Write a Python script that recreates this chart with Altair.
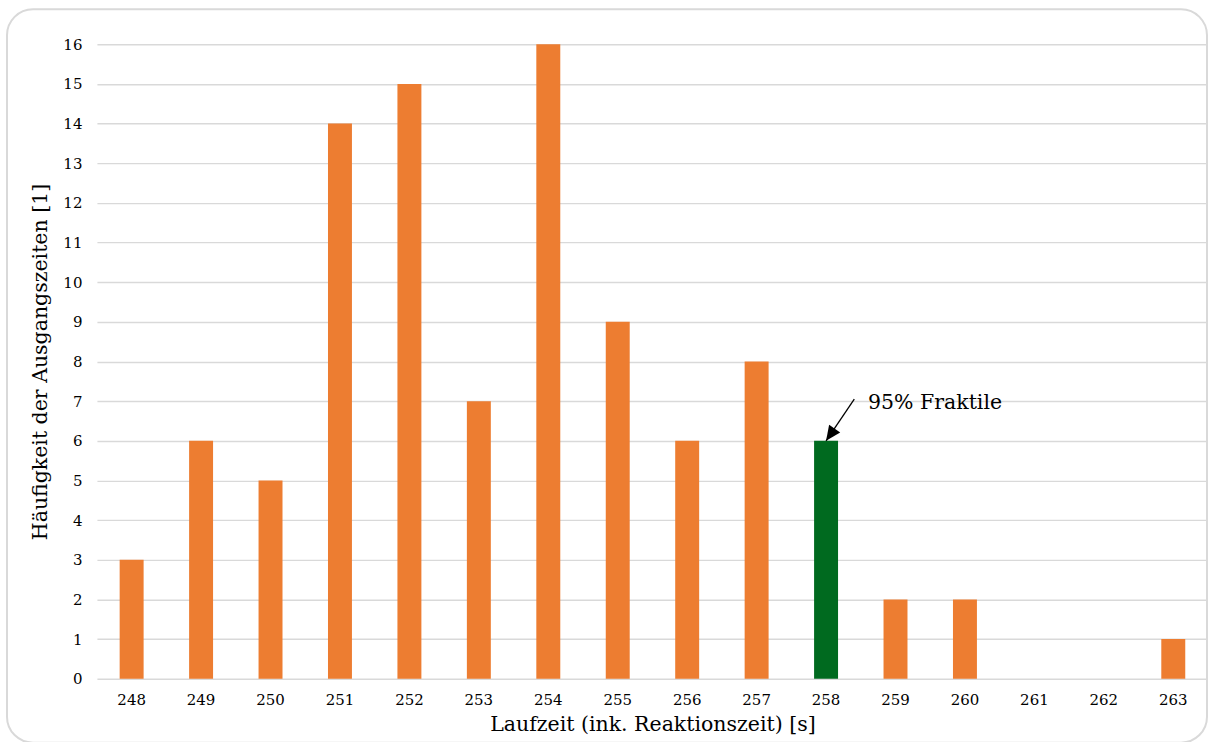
import altair as alt
import pandas as pd

# Laufzeiten (Klassen in Sekunden) und deren Häufigkeiten
zeiten = ["248", "249", "250", "251", "252", "253", "254", "255",
          "256", "257", "258", "259", "260", "261", "262", "263"]
haeufigkeit = [3, 6, 5, 14, 15, 7, 16, 9, 6, 8, 6, 2, 2, 0, 0, 1]
y_ticks = list(range(0, 17))
fraktile_klasse = "258"
fraktile_text = "95% Fraktile"

FONT = "DejaVu Serif"
ORANGE = "#ED7D31"
GREEN = "#006A1F"
GRID = "#D9D9D9"
X_TITLE = "Laufzeit (ink. Reaktionszeit) [s]"
Y_TITLE = "Häufigkeit der Ausgangszeiten [1]"

df = pd.DataFrame({"zeit": zeiten, "anzahl": haeufigkeit})
df["fraktile"] = df["zeit"] == fraktile_klasse
fraktile_wert = int(df.loc[df["fraktile"], "anzahl"].iloc[0])

label_style = dict(labelFont=FONT, titleFont=FONT, labelFontSize=15,
                   titleFontSize=20.5, labelColor="black", titleColor="black",
                   titleFontWeight="normal")

x_scale = alt.Scale(domain=zeiten, paddingInner=0.655, paddingOuter=0.3275)
y_scale = alt.Scale(domain=[0, 16], nice=False)
x_axis = alt.Axis(labelAngle=0, ticks=False, domain=False, grid=False,
                  labelPadding=14, titlePadding=7, **label_style)
y_axis = alt.Axis(values=y_ticks, labelOverlap=False, ticks=False,
                  domain=False, labelPadding=15, titlePadding=12,
                  grid=True, gridColor=GRID, gridWidth=1.4, **label_style)


def x_enc():
    return alt.X("zeit:N", scale=x_scale, axis=x_axis, title=X_TITLE)


def y_enc(field):
    return alt.Y(f"{field}:Q", scale=y_scale, axis=y_axis, title=Y_TITLE)


bars = alt.Chart(df).mark_bar().encode(
    x=x_enc(),
    y=y_enc("anzahl"),
    color=alt.condition(alt.datum.fraktile, alt.value(GREEN), alt.value(ORANGE)),
)

ann = pd.DataFrame({"zeit": [fraktile_klasse], "anzahl": [fraktile_wert],
                    "start": [fraktile_wert + 1.05], "label": [fraktile_text],
                    "text_y": [fraktile_wert + 0.95]})

# Pfeil von der Beschriftung zur Oberkante des Fraktil-Balkens
arrow_line = alt.Chart(ann).mark_rule(color="black", strokeWidth=1.3).encode(
    x=x_enc(),
    y=y_enc("anzahl"),
    x2=alt.value(758),
    y2=alt.Y2("start:Q"),
)
arrow_head = alt.Chart(ann).mark_point(
    shape="M0,0 L-0.9,2 L0.9,2 Z", filled=True, color="black",
    size=225, angle=215, opacity=1,
).encode(
    x=x_enc(),
    y=y_enc("anzahl"),
)
arrow_text = alt.Chart(ann).mark_text(
    align="left", baseline="middle", dx=42, fontSize=20.5, font=FONT, color="black",
).encode(
    x=x_enc(),
    y=y_enc("text_y"),
    text="label:N",
)

# Abgerundeter Rahmen um das gesamte Diagramm
frame = alt.Chart(pd.DataFrame({"r": [0]})).mark_rect(
    fill=None, fillOpacity=0, stroke=GRID, strokeWidth=2, cornerRadius=26,
).encode(
    x=alt.value(-90), x2=alt.value(1111), y=alt.value(-35), y2=alt.value(699),
)

chart = alt.layer(frame, bars, arrow_line, arrow_head, arrow_text).properties(
    width=1112, height=635,
    autosize=alt.AutoSizeParams(type="none"),
    padding={"left": 97, "top": 44, "right": 0, "bottom": 63},
).configure_view(stroke=None)

chart.save("out.html", embed_options={"renderer": "svg", "actions": False})
